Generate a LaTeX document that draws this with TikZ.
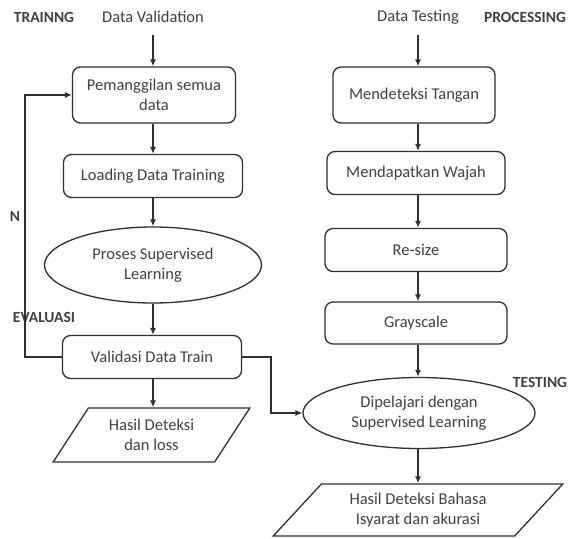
\documentclass[tikz,border=0pt]{standalone}
\usepackage{fontspec}
\setmainfont{Carlito}
\usetikzlibrary{shapes.geometric,arrows.meta}
\definecolor{txt}{HTML}{404040}
\definecolor{ln}{HTML}{303030}
\begin{document}
\begin{tikzpicture}[x=1pt,y=-1pt,
  every node/.style={text=txt,font=\fontsize{16.5}{20}\selectfont},
  proc/.style={draw=ln,line width=1.3pt,rounded corners=8pt,align=center,inner sep=0pt},
  oval/.style={draw=ln,line width=1.3pt,ellipse,align=center,inner sep=0pt},
  io/.style={draw=ln,line width=1.3pt,trapezium,trapezium stretches=true,align=center,inner sep=0pt},
  lbl/.style={font=\fontsize{15.5}{18}\selectfont\bfseries},
  arr/.style={draw=ln,line width=1.3pt,-{Latex[length=7pt,width=6pt]}},
  conn/.style={draw=ln,line width=1.3pt}]
\useasboundingbox (0,0) rectangle (569,538);
% labels
\node[lbl] (ltrain) at (44,17) {TRAINNG};
\node[lbl] (lproc) at (525,17) {PROCESSING};
\node[lbl] (ltest) at (540,382) {TESTING};
\node[lbl] (leval) at (44,317) {EVALUASI};
\node[lbl] (ln) at (15,216) {N};
% left column
\node (dv) at (153,17) {Data Validation};
\node[proc,minimum width=163pt,minimum height=56pt] (b1) at (154,95) {Pemanggilan semua\\data};
\node[proc,minimum width=179pt,minimum height=43pt] (b2) at (153,176) {Loading Data Training};
\node[oval,minimum width=217pt,minimum height=76pt] (e1) at (153,265) {Proses Supervised\\Learning};
\node[proc,minimum width=179pt,minimum height=43pt] (b3) at (152,357) {Validasi Data Train};
\node[io,trapezium left angle=53,trapezium right angle=127,minimum width=197pt,minimum height=54pt] (p1) at (151.5,435) {Hasil Deteksi\\dan loss};
% right column
\node (dt) at (418,17) {Data Testing};
\node[proc,minimum width=162pt,minimum height=56pt] (r1) at (414,95) {Mendeteksi Tangan};
\node[proc,minimum width=178pt,minimum height=43pt] (r2) at (416,173) {Mendapatkan Wajah};
\node[proc,minimum width=182pt,minimum height=43pt] (r3) at (416,250) {Re-size};
\node[proc,minimum width=182pt,minimum height=42pt] (r4) at (416,323) {Grayscale};
\node[oval,minimum width=232pt,minimum height=71pt] (e2) at (419,413) {Dipelajari dengan\\Supervised Learning};
\node[io,trapezium left angle=45,trapezium right angle=135,minimum width=290pt,minimum height=52pt] (p2) at (418,510) {Hasil Deteksi Bahasa\\Isyarat dan akurasi};
% connectors left
\coordinate (dvb) at (153,35);
\draw[arr] (dvb) -- (b1.north -| dvb);
\draw[arr] (b1.south -| dvb) -- (b2.north -| dvb);
\draw[arr] (b2.south -| dvb) -- (e1.north -| dvb);
\draw[arr] (e1.south -| dvb) -- (b3.north -| dvb);
\draw[arr] (b3.south -| dvb) -- (p1.north -| dvb);
\coordinate (fbx) at (25,0);
\draw[arr] (b3.west) -| (fbx |- b1.west) -- (b1.west);
\coordinate (cx) at (271,0);
\draw[arr] (b3.east) -| (cx |- e2.west) -- (e2.west);
% connectors right
\coordinate (dtb) at (418,35);
\draw[arr] (dtb) -- (r1.north -| dtb);
\draw[arr] (r1.south -| dtb) -- (r2.north -| dtb);
\draw[arr] (r2.south -| dtb) -- (r3.north -| dtb);
\draw[arr] (r3.south -| dtb) -- (r4.north -| dtb);
\draw[arr] (r4.south -| dtb) -- (e2.north -| dtb);
\draw[arr] (e2.south -| dtb) -- (p2.north -| dtb);
\end{tikzpicture}
\end{document}
